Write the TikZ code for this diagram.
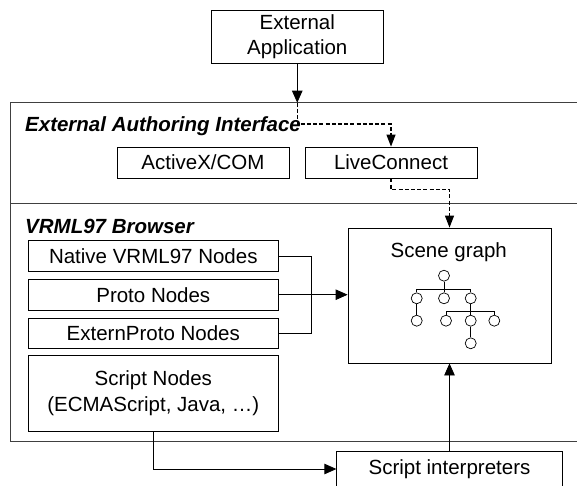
\documentclass[tikz,border=0pt]{standalone}
\usepackage{fontspec}
\setmainfont{Liberation Sans}
\usetikzlibrary{arrows.meta}
\begin{document}
\begin{tikzpicture}[x=1pt,y=-1pt,
  font=\fontsize{20.5}{25.5}\selectfont,
  box/.style={draw=black, line width=0.8pt, rectangle, inner sep=0pt, align=center},
  frame/.style={draw=black!75, line width=0.8pt},
  tit/.style={font=\fontsize{20.5}{25.5}\selectfont\bfseries\itshape, inner sep=0pt, anchor=base west},
  conn/.style={line width=0.8pt},
  arr/.style={conn, -{Triangle[width=10.5pt,length=12pt]}},
  dsh/.style={conn, line width=1.1pt, -{Triangle[width=9pt,length=12pt]}, dash pattern=on 4pt off 2.2pt},
  tn/.style={circle, draw=black, line width=0.7pt, minimum size=11pt, inner sep=0pt},
  tl/.style={line width=0.8pt}]
\useasboundingbox (0,0) rectangle (577,485);

% outer frame with the two layers
\draw[frame] (10.7,102.7) rectangle (600,441.5);
\draw[frame] (10.7,203) -- (600,203);
\coordinate (eaitop) at (297.25,102.7);

\node[tit] (eai) at (25,131.7) {External Authoring Interface};
\node[tit] (vrml) at (25,233.3) {VRML97 Browser};

% boxes
\node[box, minimum width=172pt, minimum height=53pt] (app) at (297.25,36.5) {External\\Application};
\node[box, minimum width=172pt, minimum height=31pt] (activex) at (203,162.5) {ActiveX/COM};
\node[box, minimum width=172pt, minimum height=31pt] (live) at (391,162.5) {LiveConnect};
\node[box, minimum width=249.5pt, minimum height=31pt] (native) at (153.3,256.2) {Native VRML97 Nodes};
\node[box, minimum width=249.5pt, minimum height=30.7pt] (proto) at (153.3,294.7) {Proto Nodes};
\node[box, minimum width=249.5pt, minimum height=30pt] (extern) at (153.3,333.3) {ExternProto Nodes};
\node[box, minimum width=249.5pt, minimum height=76pt] (script) at (153.3,393) {Script Nodes\\(ECMAScript, Java, \dots)};
\node[box, minimum width=203pt, minimum height=135pt] (scene) at (449.5,295.5) {};
\node[inner sep=0pt] (sgtitle) at (448.7,251.7) {Scene graph};
\node[box, minimum width=225.5pt, minimum height=36pt] (interp) at (449.5,469) {Script interpreters};

% scene graph tree
\node[tn] (r) at (444,275.7) {};
\node[tn] (c1) at (416.7,298.3) {};
\node[tn] (c2) at (444,298.3) {};
\node[tn] (c3) at (470.7,298.3) {};
\node[tn] (d1) at (416.7,320.7) {};
\node[tn] (g1) at (446,320.7) {};
\node[tn] (g2) at (470.7,320.7) {};
\node[tn] (g3) at (494.3,320.7) {};
\node[tn] (h1) at (470.7,343.3) {};
\coordinate (bar1) at (444,289.3);
\coordinate (bar2) at (470.7,311.7);
\draw[tl] (r.south) -- (bar1);
\draw[tl] (c1.north) -- (c1.north |- bar1) -- (c3.north |- bar1) -- (c3.north);
\draw[tl] (c2.north) -- (c2.north |- bar1);
\draw[tl] (c1.south) -- (d1.north);
\draw[tl] (c3.south) -- (bar2);
\draw[tl] (g1.north) -- (g1.north |- bar2) -- (g3.north |- bar2) -- (g3.north);
\draw[tl] (g2.north) -- (g2.north |- bar2);
\draw[tl] (g2.south) -- (h1.north);

% connectors
\draw[arr] (app.south) -- (eaitop);
\draw[dsh] (eaitop) -- ++(0,21.3) -| (live.north);
\draw[dsh] (live.south) -- ++(0,11) -| (scene.north);
\draw[conn] (native.east) -- ++(33,0) |- (extern.east);
\draw[arr] (proto.east) -- (scene.west |- proto.east);
\draw[arr] (script.south) |- (interp.west);
\draw[arr] (interp.north) -- (scene.south);
\end{tikzpicture}
\end{document}
